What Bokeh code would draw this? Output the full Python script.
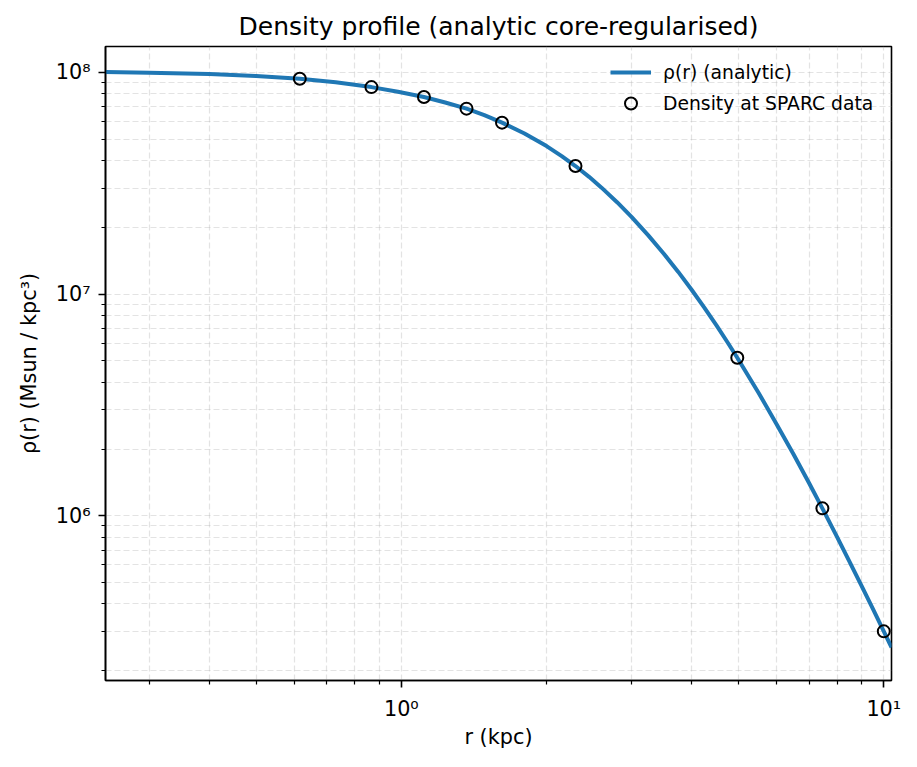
from bokeh.plotting import figure
from bokeh.models import FixedTicker, Legend, LegendItem, Range1d
from bokeh.embed import file_html
from bokeh.resources import INLINE

# ---- data ----
r_curve = [0.2437, 0.3, 0.4, 0.5, 0.616, 0.731, 0.867, 0.984, 1.114, 1.233, 1.365,
           1.486, 1.617, 1.8, 2.0, 2.15, 2.296, 2.45, 2.6, 2.8, 3.0, 3.25, 3.5, 3.75,
           4.0, 4.25, 4.5, 4.75, 4.97, 5.5, 6.0, 6.5, 7.0, 7.46, 8.0, 8.5, 9.0, 9.5,
           10.0, 10.375]
rho_curve = [1.0035e8, 9.97e7, 9.82e7, 9.63e7, 9.36e7, 9.03e7, 8.58e7, 8.17e7, 7.74e7,
             7.31e7, 6.86e7, 6.41e7, 5.93e7, 5.30e7, 4.65e7, 4.19e7, 3.78e7, 3.378e7,
             3.02e7, 2.596e7, 2.229e7, 1.84e7, 1.521e7, 1.259e7, 1.043e7, 8.67e6,
             7.22e6, 6.03e6, 5.16e6, 3.587e6, 2.58e6, 1.895e6, 1.406e6, 1.08e6, 8.03e5,
             6.18e5, 4.82e5, 3.79e5, 3.01e5, 2.548e5]

r_data = [0.616, 0.867, 1.114, 1.365, 1.617, 2.296, 4.97, 7.46, 10.0]
rho_data = [9.36e7, 8.58e7, 7.74e7, 6.86e7, 5.93e7, 3.78e7, 5.16e6, 1.08e6, 3.01e5]

x_major = [1, 10]
x_major_labels = ["10\u2070", "10\u00b9"]
x_minor = [0.3, 0.4, 0.5, 0.6, 0.7, 0.8, 0.9, 2, 3, 4, 5, 6, 7, 8, 9]
y_major = [1000000, 10000000, 100000000]
y_major_labels = ["10\u2076", "10\u2077", "10\u2078"]
y_minor = [m * d for d in (1e5, 1e6, 1e7) for m in range(2, 10)]

x_limits = (0.2437, 10.375)
y_limits = (1.807e5, 1.308e8)

title_text = "Density profile (analytic core-regularised)"
x_label = "r (kpc)"
y_label = "\u03c1(r) (Msun / kpc\u00b3)"
line_label = "\u03c1(r) (analytic)"
points_label = "Density at SPARC data"

FONT = "DejaVu Sans"

p = figure(width=901, height=751, x_axis_type="log", y_axis_type="log",
           x_range=Range1d(*x_limits), y_range=Range1d(*y_limits),
           output_backend="svg", toolbar_location=None,
           min_border_left=105, min_border_right=10, min_border_top=46, min_border_bottom=69)

p.title.text = title_text
p.title.text_font = FONT
p.title.text_font_size = "25px"
p.title.text_font_style = "normal"
p.title.align = "center"
p.title.text_color = "black"
p.title.standoff = 11

line_r = p.line(r_curve, rho_curve, line_color="#1f77b4", line_width=4)
pts_r = p.scatter(r_data, rho_data, marker="circle", size=12, fill_color=None,
                  line_color="black", line_width=2)

p.xaxis.ticker = FixedTicker(ticks=x_major, minor_ticks=x_minor)
p.yaxis.ticker = FixedTicker(ticks=y_major, minor_ticks=y_minor)
p.xaxis.major_label_overrides = dict(zip(x_major, x_major_labels))
p.yaxis.major_label_overrides = dict(zip(y_major, y_major_labels))

for ax in (p.xaxis, p.yaxis):
    ax.axis_line_color = "black"
    ax.axis_line_width = 1.6
    ax.major_tick_line_color = "black"
    ax.major_tick_line_width = 1.6
    ax.minor_tick_line_color = "black"
    ax.minor_tick_line_width = 1.2
    ax.major_tick_out = 7
    ax.major_tick_in = 0
    ax.minor_tick_out = 4
    ax.minor_tick_in = 0
    ax.major_label_text_font = FONT
    ax.major_label_text_font_size = "20.8px"
    ax.major_label_text_color = "black"
    ax.axis_label_text_font = FONT
    ax.axis_label_text_font_size = "20.8px"
    ax.axis_label_text_font_style = "normal"
    ax.axis_label_text_color = "black"

p.xaxis.major_label_standoff = 9
p.xaxis.axis_label_standoff = 1
p.yaxis.major_label_standoff = 8
p.yaxis.axis_label_standoff = 12

p.xaxis.axis_label = x_label
p.yaxis.axis_label = y_label

for g in (p.xgrid, p.ygrid):
    g.grid_line_color = "#b0b0b0"
    g.grid_line_alpha = 0.35
    g.grid_line_dash = "6 3"
    g.grid_line_width = 1.2
    g.minor_grid_line_color = "#b0b0b0"
    g.minor_grid_line_alpha = 0.35
    g.minor_grid_line_dash = "6 3"
    g.minor_grid_line_width = 1.2

p.outline_line_color = "black"
p.outline_line_width = 1.6
p.outline_line_alpha = 1.0
p.background_fill_color = "white"
p.border_fill_color = "white"

legend = Legend(items=[LegendItem(label=line_label, renderers=[line_r]),
                       LegendItem(label=points_label, renderers=[pts_r])],
                location="top_right")
legend.border_line_color = None
legend.background_fill_alpha = 0.0
legend.label_text_font = FONT
legend.label_text_font_size = "18.75px"
legend.label_text_color = "black"
legend.glyph_width = 41
legend.glyph_height = 30
legend.label_height = 30
legend.label_width = 217
legend.label_standoff = 12
legend.spacing = 1
legend.padding = 8
legend.margin = 11
p.add_layout(legend)

open("out.html", "w").write(file_html(p, INLINE))
